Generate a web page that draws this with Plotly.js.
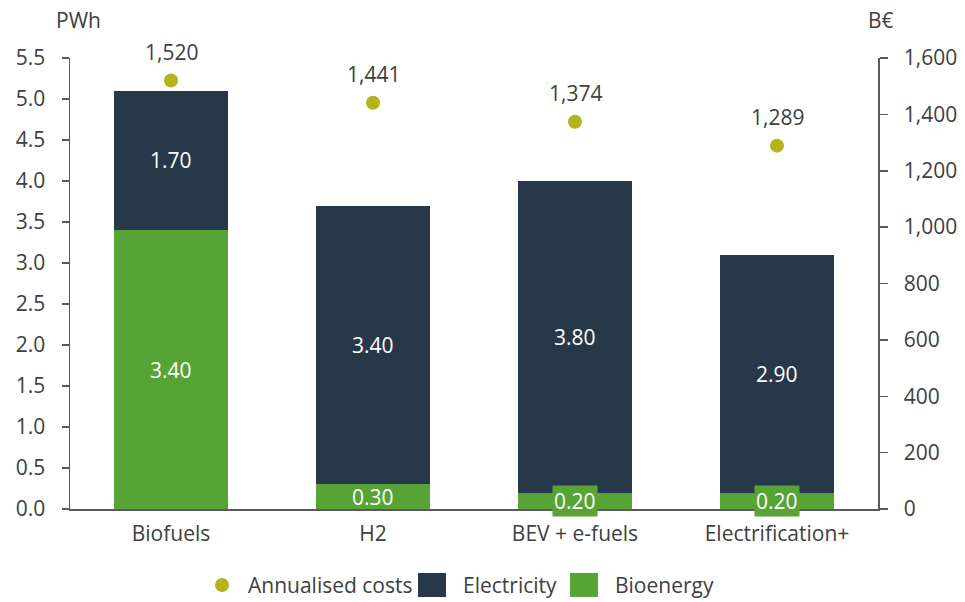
<!DOCTYPE html>
<html>
<head>
<meta charset="utf-8">
<script src="https://cdn.plot.ly/plotly-3.0.1.min.js"></script>
<style>
  html, body { margin: 0; padding: 0; background: #fff; }
  #chart { width: 965px; height: 602px; }
</style>
</head>
<body>
<div id="chart"></div>
<script>
// Scenario pathways
const scenarios = ['Biofuels', 'H2', 'BEV + e-fuels', 'Electrification+'];
// Final energy by carrier (PWh)
const bioenergy = [3.40, 0.30, 0.20, 0.20];
const electricity = [1.70, 3.40, 3.80, 2.90];
// Annualised system costs (B€)
const annualisedCosts = [1520, 1441, 1374, 1289];
// Legend entries
const legendLabels = ['Annualised costs', 'Electricity', 'Bioenergy'];

const NAVY = '#263849';
const GREEN = '#57a336';
const OLIVE = '#b4b41c';
const GREY = '#595959';
const TEXT = '#404040';
const FONT = 'Open Sans, Noto Sans, sans-serif';
const FS = 21;

const traces = [
  {
    type: 'bar', name: legendLabels[2], x: scenarios, y: bioenergy,
    marker: { color: GREEN }, hoverinfo: 'x+y'
  },
  {
    type: 'bar', name: legendLabels[1], x: scenarios, y: electricity,
    marker: { color: NAVY }, hoverinfo: 'x+y'
  },
  {
    type: 'scatter', mode: 'markers', name: legendLabels[0],
    x: scenarios, y: annualisedCosts, yaxis: 'y2',
    marker: { color: OLIVE, size: 14 }
  }
];

const annotations = [];
scenarios.forEach((s, i) => {
  // bioenergy segment label; thin segments get a filled box behind the text
  annotations.push({
    x: s, y: bioenergy[i] / 2, xref: 'x', yref: 'y',
    text: bioenergy[i].toFixed(2), showarrow: false,
    font: { family: FONT, size: FS, color: '#ffffff' },
    bgcolor: bioenergy[i] < 0.3 ? GREEN : 'rgba(0,0,0,0)', borderpad: 1
  });
  // electricity segment label
  annotations.push({
    x: s, y: bioenergy[i] + electricity[i] / 2, xref: 'x', yref: 'y',
    text: electricity[i].toFixed(2), showarrow: false,
    font: { family: FONT, size: FS, color: '#ffffff' }
  });
  // cost label above each marker
  annotations.push({
    x: s, y: annualisedCosts[i], xref: 'x', yref: 'y2',
    text: annualisedCosts[i].toLocaleString('en-US'), showarrow: false,
    yshift: 29, font: { family: FONT, size: FS, color: TEXT }
  });
});

const W = 965, H = 602;
const px = v => v / W;
const py = v => 1 - v / H;

// axis unit labels
annotations.push({
  x: px(54), y: py(20), xref: 'paper', yref: 'paper',
  xanchor: 'left', yanchor: 'middle', text: 'PWh', showarrow: false,
  font: { family: FONT, size: FS, color: TEXT }
});
annotations.push({
  x: px(866), y: py(20), xref: 'paper', yref: 'paper',
  xanchor: 'left', yanchor: 'middle', text: 'B€', showarrow: false,
  font: { family: FONT, size: FS, color: TEXT }
});

// bottom legend: marker / swatches drawn as shapes, labels as text
const legendY = 585;
const shapes = [
  { type: 'circle', xref: 'paper', yref: 'paper',
    x0: px(215), x1: px(229), y0: py(legendY + 7), y1: py(legendY - 7),
    fillcolor: OLIVE, line: { width: 0 } },
  { type: 'rect', xref: 'paper', yref: 'paper',
    x0: px(418), x1: px(446), y0: py(legendY + 12), y1: py(legendY - 12),
    fillcolor: NAVY, line: { width: 0 } },
  { type: 'rect', xref: 'paper', yref: 'paper',
    x0: px(570), x1: px(598), y0: py(legendY + 12), y1: py(legendY - 12),
    fillcolor: GREEN, line: { width: 0 } }
];
[[246, 0], [461, 1], [613, 2]].forEach(([x, k]) => {
  annotations.push({
    x: px(x), y: py(legendY), xref: 'paper', yref: 'paper',
    xanchor: 'left', yanchor: 'middle', text: legendLabels[k], showarrow: false,
    font: { family: FONT, size: FS, color: TEXT }
  });
});

// plot area spans 70..878 px horizontally, 58..509 px vertically
const layout = {
  width: W, height: H,
  margin: { l: 0, r: 0, t: 0, b: 0 },
  paper_bgcolor: '#ffffff', plot_bgcolor: '#ffffff',
  barmode: 'stack', bargap: 0.44,
  font: { family: FONT, size: FS, color: TEXT },
  showlegend: false,
  xaxis: {
    domain: [px(70), px(878)],
    showline: true, linecolor: GREY, linewidth: 1.5,
    ticks: '', showgrid: false, zeroline: false,
    tickfont: { family: FONT, size: FS, color: TEXT },
    ticklabelstandoff: 5
  },
  yaxis: {
    domain: [py(509), py(58)],
    range: [0, 5.5], dtick: 0.5, tickformat: '.1f',
    showline: true, linecolor: GREY, linewidth: 1.5,
    ticks: 'outside', ticklen: 7, tickcolor: GREY, tickwidth: 1.5,
    showgrid: false, zeroline: false,
    tickfont: { family: FONT, size: FS, color: TEXT },
    ticklabelstandoff: 12
  },
  yaxis2: {
    overlaying: 'y', side: 'right', anchor: 'x',
    range: [0, 1600], dtick: 200, tickformat: ',',
    showline: true, linecolor: GREY, linewidth: 1.5,
    ticks: 'outside', ticklen: 8, tickcolor: GREY, tickwidth: 1.5,
    showgrid: false, zeroline: false,
    tickfont: { family: FONT, size: FS, color: TEXT },
    ticklabelstandoff: 12
  },
  shapes: shapes,
  annotations: annotations
};

Plotly.newPlot('chart', traces, layout, { displayModeBar: false, staticPlot: true });
</script>
</body>
</html>
